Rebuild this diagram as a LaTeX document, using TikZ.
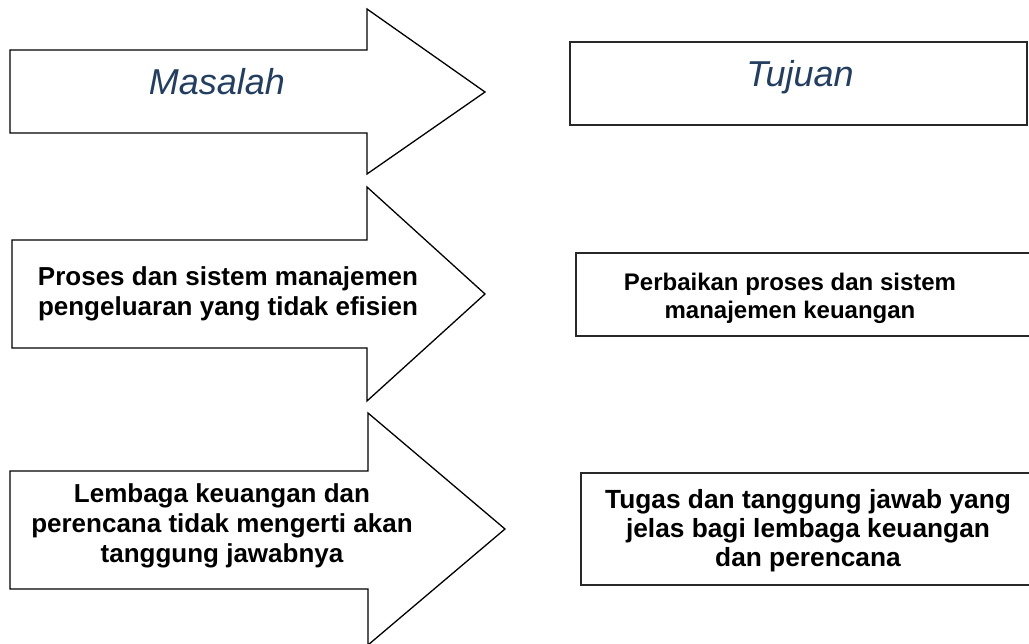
\documentclass[tikz,border=0pt]{standalone}
\usepackage{fontspec}
\setmainfont{Liberation Sans}
\definecolor{titleblue}{RGB}{36,62,96}
\definecolor{boxline}{RGB}{40,40,40}
\begin{document}
\begin{tikzpicture}[x=1pt,y=-1pt,
  blockarrow/.style={draw=black,line width=1.3pt,line join=miter,fill=white},
  goalbox/.style={draw=boxline,line width=1.6pt,fill=white},
  heading/.style={font=\itshape\fontsize{36}{40}\selectfont,text=titleblue,anchor=base,inner sep=0pt},
  bodytext/.style={font=\bfseries\fontsize{26}{30}\selectfont,align=center,inner sep=0pt},
  goaltext/.style={font=\bfseries\fontsize{24}{28}\selectfont,align=center,inner sep=0pt},
  goaltextwide/.style={font=\bfseries\fontsize{26.3}{29}\selectfont,align=center,inner sep=0pt}]
\useasboundingbox (0,0) rectangle (1029,644);

% problem arrows
\draw[blockarrow] (10,50) -- (367,50) -- (367,9) -- (485,92) -- (367,174) -- (367,133) -- (10,133) -- cycle;
\draw[blockarrow] (12,240) -- (367,240) -- (367,187) -- (485,294) -- (367,401) -- (367,348) -- (12,348) -- cycle;
\draw[blockarrow] (10,471) -- (368,471) -- (368,413) -- (505,529) -- (368,645) -- (368,589) -- (10,589) -- cycle;

% goal boxes
\draw[goalbox] (570,42) rectangle (1027,125);
\draw[goalbox] (576,253) rectangle (1040,336);
\draw[goalbox] (581,473) rectangle (1040,585);

% headings
\node[heading] (masalah) at (217,95) {Masalah};
\node[heading] (tujuan) at (800,87) {Tujuan};

% problem texts
\node[bodytext] (p1) at (228,294) {Proses dan sistem manajemen\\pengeluaran yang tidak efisien};
\node[bodytext] (p2) at (222,526) {Lembaga keuangan dan\\perencana tidak mengerti akan\\tanggung jawabnya};

% goal texts
\node[goaltext] (g1) at (790,298) {Perbaikan proses dan sistem\\manajemen keuangan};
\node[goaltextwide] (g2) at (808,531) {Tugas dan tanggung jawab yang\\jelas bagi lembaga keuangan\\dan perencana};
\end{tikzpicture}
\end{document}
